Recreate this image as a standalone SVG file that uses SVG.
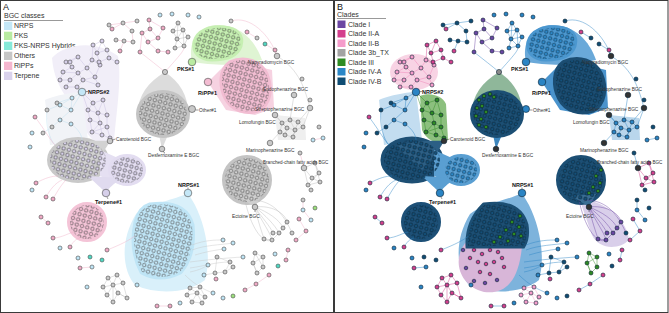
<svg xmlns="http://www.w3.org/2000/svg" width="669" height="313" viewBox="0 0 669 313">
<style>
text{font-family:"Liberation Sans",Arial,sans-serif}
.ttl{font-size:9px;fill:#111}
.lh{font-size:7px;fill:#333}
.lg{font-size:7px;fill:#333}
.lbl{font-size:4.8px;fill:#333}
.bl{font-size:5.5px;font-weight:bold;fill:#111}
.na{stroke:#4a4a4a;stroke-width:.6}
.nb{stroke:#0a2233;stroke-width:.6}
.e{fill:none;stroke-width:.45}
.frame{fill:#fff;stroke:#3a3a3a;stroke-width:1}
.ld{stroke:#333;stroke-width:.5}
</style>
<defs>
<pattern id="pGa" width="5.4" height="5.4" patternUnits="userSpaceOnUse" patternTransform="rotate(15)"><circle cx="2.7" cy="2.7" r="1.75" fill="#d2d2d2" stroke="#4a4a4a" stroke-width=".6"/></pattern>
<pattern id="pBa" width="5.4" height="5.4" patternUnits="userSpaceOnUse" patternTransform="rotate(15)"><circle cx="2.7" cy="2.7" r="1.75" fill="#c4e7f7" stroke="#4a4a4a" stroke-width=".6"/></pattern>
<pattern id="pPa" width="5.4" height="5.4" patternUnits="userSpaceOnUse" patternTransform="rotate(15)"><circle cx="2.7" cy="2.7" r="1.75" fill="#f3bcd2" stroke="#4a4a4a" stroke-width=".6"/></pattern>
<pattern id="pKa" width="5.4" height="5.4" patternUnits="userSpaceOnUse" patternTransform="rotate(15)"><circle cx="2.7" cy="2.7" r="1.75" fill="#b9eba1" stroke="#4a4a4a" stroke-width=".6"/></pattern>
<pattern id="pTa" width="5.4" height="5.4" patternUnits="userSpaceOnUse" patternTransform="rotate(15)"><circle cx="2.7" cy="2.7" r="1.75" fill="#d6cfe9" stroke="#4a4a4a" stroke-width=".6"/></pattern>
<pattern id="pN" width="5.4" height="5.4" patternUnits="userSpaceOnUse" patternTransform="rotate(15)"><circle cx="2.7" cy="2.7" r="1.75" fill="#14507a" stroke="#08202f" stroke-width=".6"/></pattern>
<pattern id="pIVA" width="5.4" height="5.4" patternUnits="userSpaceOnUse" patternTransform="rotate(15)"><circle cx="2.7" cy="2.7" r="1.75" fill="#2d88c8" stroke="#0d3550" stroke-width=".6"/></pattern>

<ellipse id="cOth" cx="163" cy="114" rx="24" ry="21"/>
<path id="hOthFan" d="M165,72 C148,82 138,96 138,112 L188,112 C188,96 180,82 165,72 Z M182,102 L192,109 L182,124 Z M158,130 L162,149 L170,130 Z"/>
<path id="cPks" d="M195,42 C198,31 210,27 224,28 C237,29 243,36 240,46 C237,55 226,59 212,59 C200,59 193,52 195,42 Z"/>
<path id="hPks" d="M192,62 C188,45 195,28 215,25 C240,24 255,40 262,60 L240,64 C225,66 205,64 192,62 Z"/>
<path id="cRipp" d="M230,63 C245,56 260,62 266,74 C272,88 270,104 258,110 C246,114 232,110 226,98 C220,86 220,70 230,63 Z"/>
<path id="hRippFan" d="M208,82 L230,60 L272,70 L274,108 L255,115 L226,110 Z"/>
<circle id="cFat" cx="247" cy="180" r="22"/>
<path id="hFatTail" d="M238,196 L255,207 L262,194 Z"/>
<ellipse id="cLeft" cx="78" cy="160" rx="28" ry="20"/>
<ellipse id="cTerR" cx="127" cy="170" rx="16" ry="13"/>
<path id="cNrps" d="M150,205 Q185,200 192,225 Q195,255 180,272 Q160,282 142,272 Q130,250 136,222 Q140,208 150,205 Z"/>
<path id="cNrpsTop" d="M150,205 Q185,200 192,225 Q194,238 189,246 L134,246 Q133,222 150,205 Z"/>
<path id="hNrpsFan" d="M188,193 C175,200 150,203 136,214 C120,240 122,270 135,285 C160,296 190,292 205,280 C212,255 205,225 195,205 Z"/>
<circle id="cPinkLL" cx="87" cy="222" r="17"/>

<g id="rG"><circle cx="123" cy="23" r="2"/><circle cx="137" cy="21" r="2"/><circle cx="132" cy="31" r="2"/><circle cx="124" cy="41" r="2"/><circle cx="116" cy="40" r="2"/><circle cx="133" cy="42" r="2"/><circle cx="109" cy="25" r="2"/><circle cx="231" cy="21" r="2"/><circle cx="257" cy="38" r="2"/><circle cx="302" cy="79" r="2"/><circle cx="310" cy="100" r="2"/><circle cx="319" cy="127" r="2"/><circle cx="300" cy="153" r="2"/><circle cx="303" cy="200" r="2"/><circle cx="292" cy="233" r="2"/><circle cx="47" cy="110" r="2"/><circle cx="52" cy="127" r="2"/><circle cx="43" cy="133" r="2"/><circle cx="57" cy="103" r="2"/><circle cx="311" cy="190" r="2"/></g>
<g id="sgTop"><circle cx="178" cy="23" r="2"/><circle cx="173" cy="31" r="2"/><circle cx="183" cy="30" r="2"/><circle cx="188" cy="37" r="2"/><circle cx="177" cy="39" r="2"/><circle cx="184" cy="46" r="2"/><circle cx="175" cy="48" r="2"/></g>
<g id="sgLomo"><circle cx="282" cy="123" r="2"/><circle cx="290" cy="120" r="2"/><circle cx="298" cy="122" r="2"/><circle cx="287" cy="128" r="2"/><circle cx="295" cy="130" r="2"/><circle cx="303" cy="127" r="2"/><circle cx="285" cy="135" r="2"/><circle cx="293" cy="137" r="2"/><circle cx="280" cy="132" r="2"/></g>
<g id="sgFatS"><circle cx="315" cy="163" r="2"/><circle cx="319" cy="173" r="2"/><circle cx="312" cy="178" r="2"/><circle cx="320" cy="182" r="2"/><circle cx="308" cy="185" r="2"/></g>
<g id="sgRL"><circle cx="255" cy="253" r="2"/><circle cx="263" cy="257" r="2"/><circle cx="253" cy="263" r="2"/><circle cx="263" cy="267" r="2"/><circle cx="257" cy="273" r="2"/></g>
<g id="sgNR"><circle cx="217" cy="257" r="2"/><circle cx="230" cy="262" r="2"/><circle cx="215" cy="273" r="2"/><circle cx="225" cy="272" r="2"/><circle cx="233" cy="267" r="2"/></g>
<g id="sgBL"><circle cx="108" cy="278" r="2"/><circle cx="117" cy="275" r="2"/><circle cx="103" cy="287" r="2"/><circle cx="113" cy="285" r="2"/><circle cx="123" cy="283" r="2"/><circle cx="107" cy="295" r="2"/><circle cx="118" cy="293" r="2"/><circle cx="127" cy="298" r="2"/><circle cx="113" cy="302" r="2"/></g>
<g id="sgB"><circle cx="190" cy="288" r="2"/><circle cx="200" cy="287" r="2"/><circle cx="187" cy="295" r="2"/><circle cx="197" cy="293" r="2"/><circle cx="205" cy="297" r="2"/><circle cx="192" cy="302" r="2"/><circle cx="202" cy="303" r="2"/></g>
<g id="sgFan"><circle cx="287" cy="222" r="2"/><circle cx="283" cy="228" r="2"/><circle cx="279" cy="233" r="2"/><circle cx="273" cy="233" r="2"/><circle cx="264" cy="239" r="2"/><circle cx="272" cy="240" r="2"/></g>
<g id="rPtop"><circle cx="149" cy="20" r="2"/><circle cx="150" cy="29" r="2"/><circle cx="142" cy="33" r="2"/><circle cx="148" cy="42" r="2"/><circle cx="158" cy="38" r="2"/><circle cx="163" cy="28" r="2"/><circle cx="158" cy="51" r="2"/><circle cx="168" cy="52" r="2"/><circle cx="140" cy="52" r="2"/></g>
<g id="rP"><circle cx="112" cy="29" r="2"/><circle cx="120" cy="51" r="2"/><circle cx="247" cy="32" r="2"/><circle cx="275" cy="50" r="2"/><circle cx="35" cy="117" r="2"/><circle cx="36" cy="183" r="2"/><circle cx="46" cy="197" r="2"/><circle cx="53" cy="199" r="2"/><circle cx="41" cy="217" r="2"/><circle cx="48" cy="223" r="2"/><circle cx="53" cy="238" r="2"/><circle cx="70" cy="247" r="2"/><circle cx="80" cy="268" r="2"/><circle cx="107" cy="250" r="2"/><circle cx="157" cy="306" r="2"/><circle cx="170" cy="306" r="2"/><circle cx="299" cy="219" r="2"/><circle cx="306" cy="231" r="2"/><circle cx="296" cy="240" r="2"/><circle cx="288" cy="250" r="2"/><circle cx="286" cy="260" r="2"/><circle cx="269" cy="275" r="2"/><circle cx="256" cy="284" r="2"/><circle cx="245" cy="290" r="2"/><circle cx="216" cy="279" r="2"/></g>
<g id="rB"><circle cx="160" cy="15" r="2"/><circle cx="172" cy="14" r="2"/><circle cx="188" cy="15" r="2"/><circle cx="199" cy="17" r="2"/><circle cx="72" cy="98" r="2"/><circle cx="60" cy="105" r="2"/><circle cx="71" cy="110" r="2"/><circle cx="60" cy="120" r="2"/><circle cx="71" cy="124" r="2"/><circle cx="32" cy="133" r="2"/><circle cx="30" cy="147" r="2"/><circle cx="32" cy="190" r="2"/><circle cx="60" cy="248" r="2"/><circle cx="78" cy="258" r="2"/><circle cx="92" cy="267" r="2"/><circle cx="87" cy="287" r="2"/><circle cx="180" cy="303" r="2"/><circle cx="137" cy="285" r="2"/><circle cx="313" cy="140" r="2"/><circle cx="323" cy="138" r="2"/><circle cx="311" cy="220" r="2"/><circle cx="275" cy="254" r="2"/><circle cx="213" cy="293" r="2"/><circle cx="223" cy="240" r="2"/><circle cx="233" cy="243" r="2"/><circle cx="224" cy="249" r="2"/><circle cx="243" cy="257" r="2"/><circle cx="208" cy="265" r="2"/><circle cx="204" cy="275" r="2"/><circle cx="223" cy="298" r="2"/><circle cx="303" cy="210" r="2"/></g>
<g id="rC"><circle cx="265" cy="44" r="2"/><circle cx="90" cy="257" r="2"/><circle cx="102" cy="260" r="2"/><circle cx="278" cy="266" r="2"/></g>
<g id="rK"><circle cx="315" cy="208" r="2"/><circle cx="233" cy="296" r="2"/></g>
<g id="rTul"><circle cx="78" cy="57" r="2"/><circle cx="66" cy="62" r="2"/><circle cx="72" cy="67" r="2"/><circle cx="63" cy="72" r="2"/><circle cx="78" cy="73" r="2"/><circle cx="87" cy="68" r="2"/><circle cx="92" cy="60" r="2"/><circle cx="100" cy="65" r="2"/><circle cx="83" cy="80" r="2"/><circle cx="70" cy="80" r="2"/><circle cx="60" cy="80" r="2"/><circle cx="95" cy="77" r="2"/><circle cx="98" cy="85" r="2"/><circle cx="77" cy="87" r="2"/><circle cx="66" cy="87" r="2"/><circle cx="70" cy="62" r="2"/></g>
<g id="rTm"><circle cx="93" cy="45" r="2"/><circle cx="102" cy="41" r="2"/><circle cx="97" cy="53" r="2"/><circle cx="107" cy="50" r="2"/><circle cx="109" cy="58" r="2"/><circle cx="99" cy="62" r="2"/><circle cx="117" cy="62" r="2"/></g>
<g id="rTs"><circle cx="93" cy="103" r="2"/><circle cx="103" cy="100" r="2"/><circle cx="88" cy="110" r="2"/><circle cx="98" cy="113" r="2"/><circle cx="107" cy="115" r="2"/><circle cx="90" cy="120" r="2"/><circle cx="100" cy="123" r="2"/><circle cx="107" cy="127" r="2"/><circle cx="92" cy="132" r="2"/><circle cx="102" cy="135" r="2"/><circle cx="110" cy="138" r="2"/></g>

<path id="eTop" d="M178,23 L173,31 L177,39 L175,48 L184,46 L188,37 L183,30 Z M178,23 L177,39 L184,46 M173,31 L183,30 L177,39 L188,37 M183,30 L184,46"/>
<path id="ePtop" d="M149,20 L150,29 L142,33 L148,42 L158,38 L150,29 M149,20 L163,28 M148,42 L158,51 L168,52 M142,33 L140,52 M158,38 L163,28"/>
<path id="eLomo" d="M282,123 L290,120 L298,122 L303,127 L295,130 L287,128 L282,123 L280,132 L285,135 L293,137 L295,130 L290,120 M287,128 L285,135 M298,122 L293,137 M275,115 L282,123 M275,115 L287,128 M310,108 L303,127 M310,108 L298,122 M270,143 L280,132 M294,95 L290,120 M277,56 C300,70 305,90 310,108"/>
<path id="eFatS" d="M304,168 L315,163 L319,173 L312,178 L320,182 L308,185 L304,168 L312,178 M315,163 L320,182 M308,185 L319,173"/>
<path id="eRL" d="M255,253 L263,257 L263,267 L257,273 L253,263 L255,253 L263,267 M263,257 L253,263 L257,273"/>
<path id="eBL" d="M108,278 L117,275 L123,283 L127,298 L118,293 L113,302 L107,295 L103,287 L108,278 L113,285 L123,283 M117,275 L113,285 L118,293 L127,298 M103,287 L113,285 L107,295 M113,285 L113,302"/>
<path id="eB" d="M190,288 L200,287 L205,297 L202,303 L192,302 L187,295 L190,288 L197,293 L205,297 M200,287 L197,293 L192,302 M187,295 L197,293 L202,303"/>
<path id="eFan" d="M255,207 C270,205 285,212 287,222 M255,207 C268,212 280,220 283,228 M255,207 C265,215 275,225 279,233 M255,207 C262,218 270,226 273,233 M255,207 C258,222 262,232 264,239 M255,207 C262,222 270,232 272,240 M264,239 L272,240 L279,233 L283,228 L287,222 M250,200 C265,200 280,205 292,233 M245,200 C250,225 262,245 272,240"/>
<path id="eTerUL" d="M78,57 L66,62 L72,67 L63,72 L60,80 L70,80 L66,87 L77,87 L83,80 L78,73 L72,67 M78,57 L87,68 L92,60 L100,65 L95,77 L98,85 L83,80 M78,73 L87,68 M70,80 L78,73 M95,77 L87,68 M70,62 L66,62 M78,57 L70,62 M63,72 L78,73 M83,80 L95,77"/>
<path id="eTm" d="M92,60 L93,45 L102,41 L107,50 L109,58 L117,62 M97,53 L99,62 L92,60 M97,53 L107,50 M93,45 L97,53 M102,41 L97,53 M99,62 L109,58"/>
<path id="eStrip" d="M93,103 L103,100 L107,115 L98,113 L88,110 L93,103 L98,113 L100,123 L90,120 L88,110 M107,115 L107,127 L100,123 L92,132 L102,135 L110,138 L107,127 M90,120 L92,132 M100,123 L102,135 M82,92 L93,103 M82,92 L88,110 M103,100 L98,113 M92,132 L107,127"/>
<path id="eN2" d="M82,92 L72,98 L60,105 L71,110 L60,120 L71,124 M72,98 L71,110 M82,92 L71,110 M57,103 L72,98 M47,110 L60,105 M52,127 L60,120 M43,133 L52,127 M71,124 C80,130 85,140 80,145 M47,110 C45,125 50,140 55,145"/>
<path id="eNR" d="M192,245 C205,240 215,240 223,240 M192,250 C205,245 220,245 233,243 M195,255 C205,252 215,250 224,249 M190,262 C205,260 225,258 243,257 M190,268 C205,266 215,262 230,262 M190,272 C200,270 205,267 208,265 M215,273 L225,272 L230,262 L217,257 L215,273 M233,267 L225,272 M204,275 L215,273 M185,275 C195,285 205,290 213,293"/>
<path id="eRing" d="M36,183 C45,178 52,176 58,176 M46,197 C50,190 55,183 62,180 M53,199 C58,190 62,184 66,180 M53,238 C62,238 70,232 75,232 M70,247 C74,240 78,238 80,238 M41,217 L48,223 M35,117 C45,130 50,140 55,145 M107,250 C120,245 130,240 136,235 M80,268 L92,267 M157,306 L170,306 M256,284 L269,275 M245,290 L256,284 M288,250 L286,260 M296,240 L306,231 M299,219 L306,231 M247,32 L257,38 M265,44 L275,50 M275,50 L277,56 M112,29 L123,23 M120,51 L124,41 M116,40 L124,41 L133,42 L132,31 L123,23 L137,21 M109,25 L123,23 M313,140 L323,138 M300,153 L304,168 M303,200 L303,210 L311,220 M231,21 C250,15 270,35 277,56 M165,72 C180,55 185,50 184,46 M140,52 C150,60 158,66 165,72"/>
</defs>

<g id="panelA">
<rect class="frame" x="0.5" y="0.5" width="333" height="312"/>
<g id="legendA">
<text class="ttl" x="3" y="10">A</text>
<text class="lh" x="4" y="18">BGC classes</text>
<line class="ld" x1="4" y1="20.5" x2="63" y2="20.5"/>
<rect x="4" y="21.7" width="8.3" height="8.3" fill="#c4e7f7"/><text class="lg" x="14" y="28.3">NRPS</text>
<rect x="4" y="31.7" width="8.3" height="8.3" fill="#b9eba1"/><text class="lg" x="14" y="38.3">PKS</text>
<rect x="4" y="41.7" width="8.3" height="8.3" fill="#86e9d9"/><text class="lg" x="14" y="48.3">PKS-NRPS Hybrids</text>
<rect x="4" y="51.7" width="8.3" height="8.3" fill="#c6c6c6"/><text class="lg" x="14" y="58.3">Others</text>
<rect x="4" y="61.7" width="8.3" height="8.3" fill="#f5b6cf"/><text class="lg" x="14" y="68.3">RiPPs</text>
<rect x="4" y="71.7" width="8.3" height="8.3" fill="#d9d2ec"/><text class="lg" x="14" y="78.3">Terpene</text>
</g>
<g id="connectorsA">
<path d="M52,58 C62,45 95,38 118,56 C122,80 116,115 114,142 C102,150 88,140 84,125 C78,105 55,95 52,58 Z" fill="#f1eef8"/>
<path d="M45,100 C55,95 75,92 82,92 L88,140 L50,145 Z" fill="#f1f3f7"/>
<use href="#cLeft" fill="#c9c9c9" stroke="#c9c9c9" stroke-width="6"/>
<path d="M110,141 C95,140 75,142 62,146 L88,170 C98,160 105,150 110,141 Z" fill="#d2d2d2"/>
<path d="M100,150 L118,158 L118,183 L100,176 Z" fill="#e5e0f2"/>
<use href="#cTerR" fill="#e3ddf1" stroke="#e3ddf1" stroke-width="6"/>
<path d="M106,193 C98,185 92,180 88,176 L122,178 C114,184 108,188 106,193 Z" fill="#e0dbef"/>
<use href="#hOthFan" fill="#dcdcdc"/>
<use href="#cOth" fill="#c4c4c4" stroke="#c4c4c4" stroke-width="6"/>
<use href="#hPks" fill="#dff4d3"/>
<use href="#cPks" fill="#c6efb2" stroke="#c6efb2" stroke-width="5"/>
<use href="#hRippFan" fill="#f6d2e1"/>
<use href="#cRipp" fill="#f2bdd2" stroke="#f2bdd2" stroke-width="5"/>
<use href="#cFat" fill="#c4c4c4" stroke="#c4c4c4" stroke-width="6"/>
<use href="#hFatTail" fill="#cfcfcf"/>
<use href="#hNrpsFan" fill="#d9f0fa"/>
<use href="#cNrps" fill="#bfe5f6" stroke="#bfe5f6" stroke-width="5"/>
<use href="#cPinkLL" fill="#f4c4d7" stroke="#f4c4d7" stroke-width="6"/>
<path d="M275,115 L305,118 L306,140 L278,140 Z" fill="#efefef"/>
<use href="#eTop" class="e" stroke="#b8b8b8"/>
<use href="#ePtop" class="e" stroke="#f0a8c6"/>
<use href="#eLomo" class="e" stroke="#bdbdbd"/>
<use href="#eFatS" class="e" stroke="#bdbdbd"/>
<use href="#eRL" class="e" stroke="#bdbdbd"/>
<use href="#eBL" class="e" stroke="#bdbdbd"/>
<use href="#eB" class="e" stroke="#bdbdbd"/>
<use href="#eFan" class="e" stroke="#bdbdbd"/>
<use href="#eTerUL" class="e" stroke="#c7bfe0"/>
<use href="#eTm" class="e" stroke="#c7bfe0"/>
<use href="#eStrip" class="e" stroke="#c7bfe0"/>
<use href="#eN2" class="e" stroke="#bfe0f0"/>
<use href="#eNR" class="e" stroke="#c8c8c8"/>
<use href="#eRing" class="e" stroke="#f0b0c8"/>
</g>
<g id="nodesA">
<use href="#cOth" fill="url(#pGa)"/>
<use href="#cPks" fill="url(#pKa)"/>
<use href="#cRipp" fill="url(#pPa)"/>
<use href="#cFat" fill="url(#pGa)"/>
<use href="#cLeft" fill="url(#pTa)"/>
<use href="#cTerR" fill="url(#pTa)"/>
<use href="#cNrps" fill="url(#pBa)"/>
<use href="#cPinkLL" fill="url(#pPa)"/>
<use href="#rG" class="na" fill="#c9c9c9"/>
<use href="#sgTop" class="na" fill="#c9c9c9"/>
<use href="#sgLomo" class="na" fill="#c9c9c9"/>
<use href="#sgFatS" class="na" fill="#c9c9c9"/>
<use href="#sgRL" class="na" fill="#c9c9c9"/>
<use href="#sgNR" class="na" fill="#c9c9c9"/>
<use href="#sgBL" class="na" fill="#c9c9c9"/>
<use href="#sgB" class="na" fill="#c9c9c9"/>
<use href="#sgFan" class="na" fill="#c9c9c9"/>
<use href="#rPtop" class="na" fill="#f0a9c5"/>
<use href="#rP" class="na" fill="#f0a9c5"/>
<use href="#rB" class="na" fill="#bfe5f6"/>
<use href="#rC" class="na" fill="#4fd8c2"/>
<use href="#rK" class="na" fill="#9be07c"/>
<use href="#rTul" class="na" fill="#d6cfe9"/>
<use href="#rTm" class="na" fill="#d6cfe9"/>
<use href="#rTs" class="na" fill="#d6cfe9"/>
<circle class="na" cx="165" cy="72" r="2.6" fill="#c9c9c9"/>
</g>
<g id="labelsA">
<g id="a-pks1"><circle class="na" cx="192" cy="62" r="3.8" fill="#b9eba1"/><text class="bl" x="177" y="71">PKS#1</text></g>
<g id="a-ripp1"><circle class="na" cx="208" cy="82" r="3.8" fill="#f3bcd2"/><text class="bl" x="198" y="94.5">RiPP#1</text></g>
<g id="a-other1"><circle class="na" cx="192" cy="109" r="3.5" fill="#c9c9c9"/><line class="ld" x1="195.5" y1="110" x2="198.5" y2="110"/><text class="lbl" x="199" y="111.8">Other#1</text></g>
<g id="a-desf"><circle class="na" cx="162" cy="149" r="2.8" fill="#c9c9c9"/><line class="ld" x1="163" y1="151.5" x2="165" y2="153"/><text class="lbl" x="148" y="157">Desferrioxamine E BGC</text></g>
<g id="a-napy"><circle class="na" cx="277" cy="56" r="2.8" fill="#c9c9c9"/><text class="lbl" x="248" y="63.5">Napyradiomycin BGC</text></g>
<g id="a-endo"><circle class="na" cx="294" cy="95" r="2.8" fill="#c9c9c9"/><text class="lbl" x="263" y="90.5">Endophenazine BGC</text></g>
<g id="a-strep"><circle class="na" cx="310" cy="108" r="2.8" fill="#c9c9c9"/><text class="lbl" x="255" y="110.5">Streptophenazine BGC</text></g>
<g id="a-lomo"><circle class="na" cx="275" cy="115" r="2.8" fill="#c9c9c9"/><text class="lbl" x="239" y="124">Lomofungin BGC</text></g>
<g id="a-mari"><circle class="na" cx="270" cy="143" r="2.8" fill="#c9c9c9"/><text class="lbl" x="246" y="151.5">Marinophenazine BGC</text></g>
<g id="a-bcfa"><circle class="na" cx="304" cy="168" r="2.8" fill="#c9c9c9"/><text class="lbl" x="263" y="163.5" style="font-size:4.6px">Branched-chain fatty acids BGC</text></g>
<g id="a-ecto"><circle class="na" cx="255" cy="207" r="2.8" fill="#c9c9c9"/><line class="ld" x1="255" y1="210" x2="255" y2="212"/><text class="lbl" x="232" y="218">Ectoine BGC</text></g>
<g id="a-caro"><circle class="na" cx="110" cy="141" r="2.8" fill="#c9c9c9"/><line class="ld" x1="112.5" y1="140" x2="115.5" y2="139"/><text class="lbl" x="116" y="141">Carotenoid BGC</text></g>
<g id="a-terp1"><circle class="na" cx="106" cy="193" r="3.8" fill="#d6cfe9"/><line class="ld" x1="107" y1="197" x2="108" y2="199"/><text class="bl" x="95" y="203.5">Terpene#1</text></g>
<g id="a-nrps1"><circle class="na" cx="188" cy="193" r="3.8" fill="#c4e7f7"/><line class="ld" x1="188" y1="187.5" x2="188" y2="189"/><text class="bl" x="178" y="186.5">NRPS#1</text></g>
<g id="a-nrps2"><circle class="na" cx="82" cy="92" r="3.8" fill="#c4e7f7"/><line class="ld" x1="86" y1="91.5" x2="88" y2="91.5"/><text class="bl" x="88" y="93.5">NRPS#2</text></g>
</g>
</g>

<g id="panelB">
<rect class="frame" x="334.5" y="0.5" width="333.5" height="312"/>
<g id="legendB">
<text class="ttl" x="337" y="10">B</text>
<text class="lh" x="337" y="16.5">Clades</text>
<line class="ld" x1="337" y1="18.5" x2="386" y2="18.5"/>
<rect x="337.5" y="20.5" width="8" height="7.5" fill="#6b46a3"/><text class="lg" x="348" y="26.5">Clade I</text>
<rect x="337.5" y="30" width="8" height="7.5" fill="#d43f8d"/><text class="lg" x="348" y="36">Clade II-A</text>
<rect x="337.5" y="39.5" width="8" height="7.5" fill="#f59ccb"/><text class="lg" x="348" y="45.5">Clade II-B</text>
<rect x="337.5" y="49" width="8" height="7.5" fill="#a3a3a3"/><text class="lg" x="348" y="55">Clade 3b_TX</text>
<rect x="337.5" y="58.5" width="8" height="7.5" fill="#2e8b22"/><text class="lg" x="348" y="64.5">Clade III</text>
<rect x="337.5" y="68" width="8" height="7.5" fill="#2b87c7"/><text class="lg" x="348" y="74">Clade IV-A</text>
<rect x="337.5" y="77.5" width="8" height="7.5" fill="#0f4c73"/><text class="lg" x="348" y="83.5">Clade IV-B</text>
</g>
<g transform="translate(334,0)">
<g id="connectorsB">
<ellipse cx="80" cy="72" rx="24" ry="18" fill="#f8d3e4"/>
<path d="M86,96 C95,92 108,95 112,104 L114,140 C104,146 92,140 88,130 Z" fill="#8cc07e"/>
<path d="M45,100 C55,95 75,92 82,92 L88,140 L50,145 Z" fill="#c3ddf0"/>
<use href="#cLeft" fill="#1d4f74" stroke="#1d4f74" stroke-width="7"/>
<path d="M110,141 C95,140 75,142 62,146 L88,170 C98,160 105,150 110,141 Z" fill="#2c5f85"/>
<path d="M100,150 L118,158 L118,183 L100,176 Z" fill="#5a9fd2"/>
<use href="#cTerR" fill="#5a9fd2" stroke="#5a9fd2" stroke-width="6"/>
<path d="M106,193 C98,185 92,180 88,176 L122,178 C114,184 108,188 106,193 Z" fill="#5a9fd2"/>
<path d="M165,72 C148,82 138,96 138,112 L188,112 C188,96 180,82 165,72 Z" fill="#8fb79a"/>
<path d="M182,102 L192,109 L182,124 Z M158,130 L162,149 L170,130 Z" fill="#3d86bd"/>
<use href="#cOth" fill="#1c4f74" stroke="#1c4f74" stroke-width="6"/>
<use href="#hPks" fill="#6aa9d9"/>
<use href="#cPks" fill="#4b97cf" stroke="#4b97cf" stroke-width="5"/>
<use href="#hRippFan" fill="#4a93cc"/>
<use href="#cRipp" fill="#1b4d72" stroke="#1b4d72" stroke-width="6"/>
<path d="M245,198 C265,200 292,215 295,240 C285,250 265,250 258,235 Z" fill="#d9cfea"/>
<use href="#cFat" fill="#1c4f74" stroke="#1c4f74" stroke-width="6"/>
<use href="#hFatTail" fill="#3a6e94"/>
<use href="#hNrpsFan" fill="#7db3dc"/>
<path d="M134,240 C118,255 122,285 150,292 C172,295 185,280 188,246 Z" fill="#d8b6d8"/>
<use href="#cNrpsTop" fill="#1c4f74" stroke="#1c4f74" stroke-width="5"/>
<use href="#cPinkLL" fill="#1d5077" stroke="#1d5077" stroke-width="6"/>
<path d="M275,115 L305,118 L306,140 L278,140 Z" fill="#b9d6ec"/>
<use href="#eTop" class="e" stroke="#2a84c4"/>
<use href="#ePtop" class="e" stroke="#6b46a3"/>
<use href="#eLomo" class="e" stroke="#2a84c4"/>
<use href="#eFatS" class="e" stroke="#d43f8d"/>
<use href="#eRL" class="e" stroke="#2e8b22"/>
<use href="#eBL" class="e" stroke="#d43f8d"/>
<use href="#eB" class="e" stroke="#f59ccb"/>
<use href="#eFan" class="e" stroke="#6b46a3"/>
<use href="#eTerUL" class="e" stroke="#f07fb5"/>
<use href="#eTm" class="e" stroke="#d43f8d"/>
<use href="#eStrip" class="e" stroke="#2e8b22"/>
<use href="#eN2" class="e" stroke="#2a84c4"/>
<use href="#eNR" class="e" stroke="#2a84c4"/>
<use href="#eRing" class="e" stroke="#2a84c4"/>
</g>
<g id="nodesB">
<use href="#cOth" fill="url(#pN)"/>
<use href="#cPks" fill="url(#pIVA)"/>
<use href="#cRipp" fill="url(#pN)"/>
<use href="#cFat" fill="url(#pN)"/>
<use href="#cLeft" fill="url(#pN)"/>
<use href="#cTerR" fill="url(#pIVA)"/>
<use href="#cNrpsTop" fill="url(#pN)"/>
<use href="#cPinkLL" fill="url(#pN)"/>
<g class="nb" fill="#2e8b22">
<circle cx="145" cy="100" r="1.8"/><circle cx="150" cy="96" r="1.8"/><circle cx="156" cy="94" r="1.8"/><circle cx="143" cy="108" r="1.8"/><circle cx="148" cy="106" r="1.8"/><circle cx="142" cy="116" r="1.8"/><circle cx="147" cy="119" r="1.8"/><circle cx="152" cy="112" r="1.8"/><circle cx="145" cy="125" r="1.8"/><circle cx="152" cy="127" r="1.8"/><circle cx="160" cy="97" r="1.8"/>
<circle cx="262" cy="176" r="1.8"/><circle cx="266" cy="183" r="1.8"/><circle cx="259" cy="187" r="1.8"/><circle cx="264" cy="191" r="1.8"/><circle cx="255" cy="193" r="1.8"/><circle cx="267" cy="170" r="1.8"/>
<circle cx="178" cy="222" r="1.8"/><circle cx="185" cy="227" r="1.8"/><circle cx="172" cy="230" r="1.8"/><circle cx="180" cy="234" r="1.8"/><circle cx="187" cy="236" r="1.8"/><circle cx="166" cy="237" r="1.8"/><circle cx="174" cy="241" r="1.8"/><circle cx="186" cy="216" r="1.8"/><circle cx="160" cy="242" r="1.8"/>
</g>
<g class="nb" fill="#d43f8d">
<circle cx="140" cy="250" r="1.8"/><circle cx="148" cy="254" r="1.8"/><circle cx="156" cy="250" r="1.8"/><circle cx="164" cy="252" r="1.8"/><circle cx="144" cy="262" r="1.8"/><circle cx="152" cy="264" r="1.8"/><circle cx="160" cy="262" r="1.8"/><circle cx="168" cy="258" r="1.8"/><circle cx="146" cy="272" r="1.8"/><circle cx="156" cy="274" r="1.8"/><circle cx="136" cy="258" r="1.8"/><circle cx="170" cy="267" r="1.8"/>
</g>
<g class="nb" fill="#6b46a3">
<circle cx="132" cy="268" r="1.8"/><circle cx="140" cy="281" r="1.8"/><circle cx="129" cy="250" r="1.8"/><circle cx="151" cy="283" r="1.8"/><circle cx="163" cy="280" r="1.8"/>
</g>
<use href="#rG" class="nb" fill="#0f4c73"/>
<use href="#sgTop" class="nb" fill="#2a84c4"/>
<use href="#sgLomo" class="nb" fill="#2a84c4"/>
<use href="#sgFatS" class="nb" fill="#d43f8d"/>
<use href="#sgRL" class="nb" fill="#2e8b22"/>
<use href="#sgNR" class="nb" fill="#0f4c73"/>
<use href="#sgBL" class="nb" fill="#d43f8d"/>
<use href="#sgB" class="nb" fill="#f59ccb"/>
<use href="#sgFan" class="nb" fill="#6b46a3"/>
<use href="#rPtop" class="nb" fill="#6b46a3"/>
<use href="#rP" class="nb" fill="#d43f8d"/>
<use href="#rB" class="nb" fill="#2a84c4"/>
<use href="#rC" class="nb" fill="#0f4c73"/>
<use href="#rK" class="nb" fill="#0f4c73"/>
<use href="#rTul" class="nb" fill="#f59ccb"/>
<use href="#rTm" class="nb" fill="#d43f8d"/>
<use href="#rTs" class="nb" fill="#2e8b22"/>
<circle class="nb" cx="165" cy="72" r="2.6" fill="#8a8a8a"/>
</g>
<g id="labelsB">
<g id="b-pks1"><circle class="nb" cx="192" cy="62" r="3.8" fill="#2a84c4"/><text class="bl" x="177" y="71">PKS#1</text></g>
<g id="b-ripp1"><circle class="nb" cx="208" cy="82" r="3.8" fill="#2a84c4"/><text class="bl" x="198" y="94.5">RiPP#1</text></g>
<g id="b-other1"><circle class="nb" cx="192" cy="109" r="3.5" fill="#2a84c4"/><line class="ld" x1="195.5" y1="110" x2="198.5" y2="110"/><text class="lbl" x="199" y="111.8">Other#1</text></g>
<g id="b-desf"><circle class="nb" cx="162" cy="149" r="2.8" fill="#333"/><line class="ld" x1="163" y1="151.5" x2="165" y2="153"/><text class="lbl" x="148" y="157">Desferrioxamine E BGC</text></g>
<g id="b-napy"><circle class="nb" cx="277" cy="56" r="2.8" fill="#333"/><text class="lbl" x="248" y="63.5">Napyradiomycin BGC</text></g>
<g id="b-endo"><circle class="nb" cx="294" cy="95" r="2.8" fill="#333"/><text class="lbl" x="263" y="90.5">Endophenazine BGC</text></g>
<g id="b-strep"><circle class="nb" cx="310" cy="108" r="2.8" fill="#333"/><text class="lbl" x="255" y="110.5">Streptophenazine BGC</text></g>
<g id="b-lomo"><circle class="nb" cx="275" cy="115" r="2.8" fill="#333"/><text class="lbl" x="239" y="124">Lomofungin BGC</text></g>
<g id="b-mari"><circle class="nb" cx="270" cy="143" r="2.8" fill="#333"/><text class="lbl" x="246" y="151.5">Marinophenazine BGC</text></g>
<g id="b-bcfa"><circle class="nb" cx="304" cy="168" r="2.8" fill="#333"/><text class="lbl" x="263" y="163.5" style="font-size:4.6px">Branched-chain fatty acids BGC</text></g>
<g id="b-ecto"><circle class="nb" cx="255" cy="207" r="2.8" fill="#333"/><line class="ld" x1="255" y1="210" x2="255" y2="212"/><text class="lbl" x="232" y="218">Ectoine BGC</text></g>
<g id="b-caro"><circle class="nb" cx="110" cy="141" r="2.8" fill="#333"/><line class="ld" x1="112.5" y1="140" x2="115.5" y2="139"/><text class="lbl" x="116" y="141">Carotenoid BGC</text></g>
<g id="b-terp1"><circle class="nb" cx="106" cy="193" r="3.8" fill="#2a84c4"/><line class="ld" x1="107" y1="197" x2="108" y2="199"/><text class="bl" x="95" y="203.5">Terpene#1</text></g>
<g id="b-nrps1"><circle class="nb" cx="188" cy="193" r="3.8" fill="#2a84c4"/><line class="ld" x1="188" y1="187.5" x2="188" y2="189"/><text class="bl" x="178" y="186.5">NRPS#1</text></g>
<g id="b-nrps2"><circle class="nb" cx="82" cy="92" r="3.8" fill="#2a84c4"/><line class="ld" x1="86" y1="91.5" x2="88" y2="91.5"/><text class="bl" x="88" y="93.5">NRPS#2</text></g>
</g>
</g>
</g>
</svg>
